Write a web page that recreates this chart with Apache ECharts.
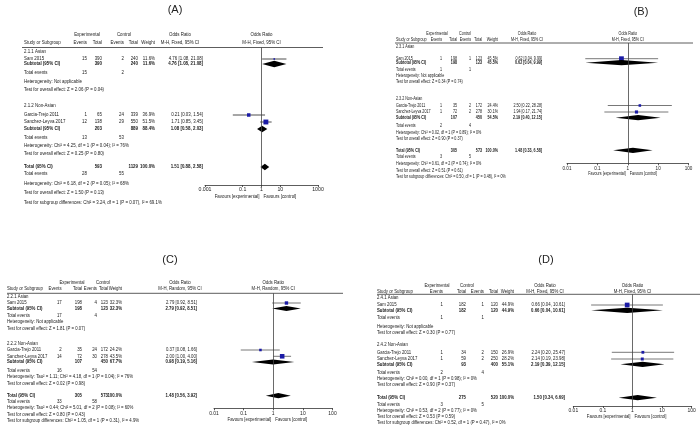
<!DOCTYPE html>
<html><head><meta charset="utf-8">
<script src="https://cdn.jsdelivr.net/npm/echarts@6/dist/echarts.min.js"></script>
<style>html,body{margin:0;padding:0;background:#fff}#c{width:700px;height:428px}</style>
</head><body><div id="c"></div><script>
// ================= DATA =================
const studyNames = ['Sam 2015', 'Garcia-Trejo 2011', 'Sanchez-Leyva 2017'];
const studyGroup = [0, 1, 1];

// Panel A
const aGroups = ['2.1.1 Asian', '2.1.2 Non-Asian'];
const aExpEvents = [15, 1, 12];
const aExpTotal = [390, 65, 138];
const aCtlEvents = [2, 24, 29];
const aCtlTotal = [240, 339, 550];
const aWeight = ['11.6%', '36.9%', '51.5%'];
const aOR = [4.76, 0.21, 1.71];
const aLow = [1.08, 0.03, 0.85];
const aHigh = [21.08, 1.54, 3.45];
const aSubWeight = ['11.6%', '88.4%'];
const aSubOR = [4.76, 1.08];
const aSubLow = [1.08, 0.58];
const aSubHigh = [21.08, 2.03];
const aTotal = [1.51, 0.88, 2.58];
const aSubHet = ['Heterogeneity: Not applicable', 'Heterogeneity: Chi² = 4.25, df = 1 (P = 0.04); I² = 76%'];
const aSubTest = ['Test for overall effect: Z = 2.06 (P = 0.04)', 'Test for overall effect: Z = 0.25 (P = 0.80)'];
const aTotHet = 'Heterogeneity: Chi² = 6.18, df = 2 (P = 0.05); I² = 68%';
const aTotTest = 'Test for overall effect: Z = 1.50 (P = 0.13)';
const aSubDiff = 'Test for subgroup differences: Chi² = 3.24, df = 1 (P = 0.07), I² = 69.1%';
const aTicks = ['0.001', '0.1', '1', '10', '1000'];

// Panel B
const bGroups = ['2.3.1 Asian', '2.3.2 Non-Asian'];
const bExpEvents = [1, 1, 1];
const bExpTotal = [198, 35, 72];
const bCtlEvents = [1, 2, 2];
const bCtlTotal = [123, 172, 278];
const bWeight = ['45.5%', '24.4%', '30.1%'];
const bOR = [0.62, 2.50, 1.94];
const bLow = [0.04, 0.22, 0.17];
const bHigh = [9.99, 28.28, 21.74];
const bSubWeight = ['45.5%', '54.5%'];
const bSubOR = [0.62, 2.19];
const bSubLow = [0.04, 0.40];
const bSubHigh = [9.99, 12.15];
const bTotal = [1.48, 0.33, 6.58];
const bSubHet = ['Heterogeneity: Not applicable', 'Heterogeneity: Chi² = 0.02, df = 1 (P = 0.89); I² = 0%'];
const bSubTest = ['Test for overall effect: Z = 0.34 (P = 0.74)', 'Test for overall effect: Z = 0.90 (P = 0.37)'];
const bTotHet = 'Heterogeneity: Chi² = 0.61, df = 2 (P = 0.74); I² = 0%';
const bTotTest = 'Test for overall effect: Z = 0.51 (P = 0.61)';
const bSubDiff = 'Test for subgroup differences: Chi² = 0.50, df = 1 (P = 0.48), I² = 0%';
const bTicks = ['0.01', '0.1', '1', '10', '100'];

// Panel C
const cGroups = ['2.2.1 Asian', '2.2.2 Non-Asian'];
const cExpEvents = [17, 2, 14];
const cExpTotal = [198, 35, 72];
const cCtlEvents = [4, 24, 30];
const cCtlTotal = [123, 172, 278];
const cWeight = ['32.3%', '24.2%', '43.5%'];
const cOR = [2.79, 0.37, 2.00];
const cLow = [0.92, 0.08, 1.00];
const cHigh = [8.51, 1.66, 4.00];
const cSubWeight = ['32.3%', '67.7%'];
const cSubOR = [2.79, 0.98];
const cSubLow = [0.92, 0.19];
const cSubHigh = [8.51, 5.16];
const cTotal = [1.48, 0.56, 3.92];
const cSubHet = ['Heterogeneity: Not applicable', 'Heterogeneity: Tau² = 1.11; Chi² = 4.18, df = 1 (P = 0.04); I² = 76%'];
const cSubTest = ['Test for overall effect: Z = 1.81 (P = 0.07)', 'Test for overall effect: Z = 0.02 (P = 0.98)'];
const cTotHet = 'Heterogeneity: Tau² = 0.44; Chi² = 5.01, df = 2 (P = 0.08); I² = 60%';
const cTotTest = 'Test for overall effect: Z = 0.80 (P = 0.43)';
const cSubDiff = 'Test for subgroup differences: Chi² = 1.05, df = 1 (P = 0.31), I² = 4.9%';
const cTicks = ['0.01', '0.1', '1', '10', '100'];

// Panel D
const dGroups = ['2.4.1 Asian', '2.4.2 Non-Asian'];
const dExpEvents = [1, 1, 1];
const dExpTotal = [182, 34, 59];
const dCtlEvents = [1, 2, 2];
const dCtlTotal = [120, 150, 250];
const dWeight = ['44.9%', '26.9%', '28.2%'];
const dOR = [0.66, 2.24, 2.14];
const dLow = [0.04, 0.20, 0.19];
const dHigh = [10.61, 25.47, 23.98];
const dSubWeight = ['44.9%', '55.1%'];
const dSubOR = [0.66, 2.19];
const dSubLow = [0.04, 0.39];
const dSubHigh = [10.61, 12.15];
const dTotal = [1.50, 0.34, 6.69];
const dSubHet = ['Heterogeneity: Not applicable', 'Heterogeneity: Chi² = 0.00, df = 1 (P = 0.98); I² = 0%'];
const dSubTest = ['Test for overall effect: Z = 0.30 (P = 0.77)', 'Test for overall effect: Z = 0.90 (P = 0.37)'];
const dTotHet = 'Heterogeneity: Chi² = 0.53, df = 2 (P = 0.77); I² = 0%';
const dTotTest = 'Test for overall effect: Z = 0.53 (P = 0.59)';
const dSubDiff = 'Test for subgroup differences: Chi² = 0.52, df = 1 (P = 0.47), I² = 0%';
const dTicks = ['0.01', '0.1', '1', '10', '100'];

// ================= BUILD =================
function pack(title, method, groups, ee, et, ce, ct, w, or, lo, hi, sw, sor, slo, shi, tot, shet, stest, thet, ttest, sdiff, ticks) {
  return {title, method, groups, ee, et, ce, ct, w, or, lo, hi, sw, sor, slo, shi, tot, shet, stest, thet, ttest, sdiff, ticks};
}
const DATA = [
  pack('(A)', 'M-H, Fixed, 95% CI', aGroups, aExpEvents, aExpTotal, aCtlEvents, aCtlTotal, aWeight, aOR, aLow, aHigh, aSubWeight, aSubOR, aSubLow, aSubHigh, aTotal, aSubHet, aSubTest, aTotHet, aTotTest, aSubDiff, aTicks),
  pack('(B)', 'M-H, Fixed, 95% CI', bGroups, bExpEvents, bExpTotal, bCtlEvents, bCtlTotal, bWeight, bOR, bLow, bHigh, bSubWeight, bSubOR, bSubLow, bSubHigh, bTotal, bSubHet, bSubTest, bTotHet, bTotTest, bSubDiff, bTicks),
  pack('(C)', 'M-H, Random, 95% CI', cGroups, cExpEvents, cExpTotal, cCtlEvents, cCtlTotal, cWeight, cOR, cLow, cHigh, cSubWeight, cSubOR, cSubLow, cSubHigh, cTotal, cSubHet, cSubTest, cTotHet, cTotTest, cSubDiff, cTicks),
  pack('(D)', 'M-H, Fixed, 95% CI', dGroups, dExpEvents, dExpTotal, dCtlEvents, dCtlTotal, dWeight, dOR, dLow, dHigh, dSubWeight, dSubOR, dSubLow, dSubHigh, dTotal, dSubHet, dSubTest, dTotHet, dTotTest, dSubDiff, dTicks)
];

// layout (pixel positions, sizes)
const LAYOUT = [
  {fs: 5.2, sx: 0.85, tx: 175, ty: 10, cStudy: 24, cEE: 87, cET: 102, cCE: 124, cCT: 138, cW: 155, cOR: 203, hExp: 87, hCtl: 124, hOR: 180,
   lx0: 22, lx1: 323, ax0: 205, ax1: 318, sqK: 0.095, dia: 3.2, ciColor: '#222',
   r: {h1: 35, h2: 43, line: 47.5, g0: 52, s0: 59, sub0: 64, te0: 73, het0: 81.5, test0: 90, g1: 106, s1: 115, s2: 122, sub1: 129, te1: 138, het1: 146, test1: 154,
       tot: 167, te: 174, het: 183.5, test: 193, diff: 203, axis: 185, fav: 197}},
  {fs: 4.6, sx: 0.8, tx: 641, ty: 12, cStudy: 396, cEE: 442, cET: 457, cCE: 471, cCT: 482, cW: 498, cOR: 542, hExp: 437, hCtl: 465, hOR: 527,
   lx0: 395, lx1: 693, ax0: 567, ax1: 688.5, sqK: 0.105, dia: 2.6, ciColor: '#555',
   r: {h1: 34, h2: 39.5, line: 43, g0: 47, s0: 58.7, sub0: 62.7, te0: 70, het0: 76, test0: 81.7, g1: 99, s1: 105.5, s2: 112, sub1: 117.7, te1: 126, het1: 132.3, test1: 138.3,
       tot: 150.3, te: 157, het: 164, test: 170.7, diff: 176.7, axis: 163.3, fav: 173.5}},
  {fs: 5, sx: 0.86, tx: 170, ty: 260, cStudy: 7, cEE: 61.7, cET: 82, cCE: 97, cCT: 108, cW: 122, cOR: 197, hExp: 72, hCtl: 103, hOR: 180,
   lx0: 7, lx1: 343, ax0: 214, ax1: 332.5, sqK: 0.105, dia: 2.6, ciColor: '#555',
   r: {h1: 282.3, h2: 288.3, line: 293.3, g0: 296.7, s0: 303, sub0: 308.5, te0: 315.7, het0: 321.5, test0: 329, g1: 343.5, s1: 350, s2: 356.3, sub1: 362, te1: 370.3, het1: 376.7, test1: 383.3,
       tot: 395.7, te: 401.7, het: 408, test: 414.3, diff: 420.5, axis: 408.3, fav: 419.5}},
  {fs: 5, sx: 0.86, tx: 546, ty: 260, cStudy: 377, cEE: 443, cET: 466, cCE: 484, cCT: 498, cW: 514, cOR: 565, hExp: 437, hCtl: 467, hOR: 545,
   lx0: 377, lx1: 700, ax0: 573.3, ax1: 691.7, sqK: 0.105, dia: 2.6, ciColor: '#555',
   r: {h1: 286, h2: 291.7, line: 294.3, g0: 297.7, s0: 305, sub0: 310.3, te0: 318, het0: 326.5, test0: 333, g1: 345, s1: 352.3, s2: 359, sub1: 364.3, te1: 372.7, het1: 378.3, test1: 385,
       tot: 397.7, te: 405, het: 411, test: 416.7, diff: 423, axis: 406, fav: 416.7}}
];

const FONT = '"Liberation Sans", Arial, sans-serif';
const fmtCI = (o, l, h) => o.toFixed(2) + ' [' + l.toFixed(2) + ', ' + h.toFixed(2) + ']';
const sum = (arr, idx) => idx.reduce((s, i) => s + arr[i], 0);

const grids = [], xAxes = [], yAxes = [], series = [], graphics = [];

DATA.forEach((D, gi) => {
  const P = LAYOUT[gi], r = P.r;
  const tickVals = D.ticks.map(parseFloat);
  const mn = tickVals[0], mx = tickVals[tickVals.length - 1];
  const lmin = Math.log10(mn), lmax = Math.log10(mx);
  const xOf = v => P.ax0 + (P.ax1 - P.ax0) * (Math.log10(v) - lmin) / (lmax - lmin);
  const xMid = xOf(1);

  const T = (x, y, s, align, bold, fill) => graphics.push({
    type: 'text', x: x, y: y, scaleX: P.sx, silent: true,
    style: {text: String(s), fill: fill || '#1a1a1a', font: (bold ? 'bold ' : '') + P.fs + 'px ' + FONT,
            textAlign: align || 'left', textVerticalAlign: 'middle', align: align || 'left', verticalAlign: 'middle'}
  });

  // title
  graphics.push({type: 'text', x: P.tx, y: P.ty, silent: true,
    style: {text: D.title, fill: '#222', font: '11px ' + FONT, textAlign: 'center', textVerticalAlign: 'middle', align: 'center', verticalAlign: 'middle'}});

  // headers
  T(P.hExp, r.h1, 'Experimental', 'center');
  T(P.hCtl, r.h1, 'Control', 'center');
  T(P.hOR, r.h1, 'Odds Ratio', 'center');
  T(xMid, r.h1, 'Odds Ratio', 'center');
  T(P.cStudy, r.h2, 'Study or Subgroup');
  T(P.cEE, r.h2, 'Events', 'right');
  T(P.cET, r.h2, 'Total', 'right');
  T(P.cCE, r.h2, 'Events', 'right');
  T(P.cCT, r.h2, 'Total', 'right');
  T(P.cW, r.h2, 'Weight', 'right');
  T(P.hOR, r.h2, D.method, 'center');
  T(xMid, r.h2, D.method, 'center');
  graphics.push({type: 'line', silent: true, shape: {x1: P.lx0, y1: r.line, x2: P.lx1, y2: r.line}, style: {stroke: '#333', lineWidth: 0.8}});

  const studyData = [], diamondData = [];
  [0, 1].forEach(g => {
    const idx = studyGroup.map((gg, i) => gg === g ? i : -1).filter(i => i >= 0);
    T(P.cStudy, r['g' + g], D.groups[g]);
    idx.forEach(i => {
      const y = r['s' + i];
      T(P.cStudy, y, studyNames[i]);
      T(P.cEE, y, D.ee[i], 'right');
      T(P.cET, y, D.et[i], 'right');
      T(P.cCE, y, D.ce[i], 'right');
      T(P.cCT, y, D.ct[i], 'right');
      T(P.cW, y, D.w[i], 'right');
      T(P.cOR, y, fmtCI(D.or[i], D.lo[i], D.hi[i]), 'right');
      studyData.push([D.or[i], y - r.line, D.lo[i], D.hi[i], Math.max(1.6, P.sqK * parseFloat(D.w[i]))]);
    });
    const ys = r['sub' + g];
    T(P.cStudy, ys, 'Subtotal (95% CI)', 'left', true);
    T(P.cET, ys, sum(D.et, idx), 'right', true);
    T(P.cCT, ys, sum(D.ct, idx), 'right', true);
    T(P.cW, ys, D.sw[g], 'right', true);
    T(P.cOR, ys, fmtCI(D.sor[g], D.slo[g], D.shi[g]), 'right', true);
    diamondData.push([D.sor[g], ys - r.line, D.slo[g], D.shi[g]]);
    T(P.cStudy, r['te' + g], 'Total events');
    T(P.cEE, r['te' + g], sum(D.ee, idx), 'right');
    T(P.cCE, r['te' + g], sum(D.ce, idx), 'right');
    T(P.cStudy, r['het' + g], D.shet[g]);
    T(P.cStudy, r['test' + g], D.stest[g]);
  });
  const all = [0, 1, 2];
  T(P.cStudy, r.tot, 'Total (95% CI)', 'left', true);
  T(P.cET, r.tot, sum(D.et, all), 'right', true);
  T(P.cCT, r.tot, sum(D.ct, all), 'right', true);
  T(P.cW, r.tot, '100.0%', 'right', true);
  T(P.cOR, r.tot, fmtCI(D.tot[0], D.tot[1], D.tot[2]), 'right', true);
  diamondData.push([D.tot[0], r.tot - r.line, D.tot[1], D.tot[2]]);
  T(P.cStudy, r.te, 'Total events');
  T(P.cEE, r.te, sum(D.ee, all), 'right');
  T(P.cCE, r.te, sum(D.ce, all), 'right');
  T(P.cStudy, r.het, D.thet);
  T(P.cStudy, r.test, D.ttest);
  T(P.cStudy, r.diff, D.sdiff);
  T(xMid - 2, r.fav, 'Favours [experimental]', 'right');
  T(xMid + 2, r.fav, 'Favours [control]', 'left');

  grids.push({left: P.ax0, top: r.line, width: P.ax1 - P.ax0, height: r.axis - r.line, containLabel: false});
  xAxes.push({
    type: 'log', logBase: 10, gridIndex: gi, min: mn, max: mx, position: 'bottom',
    axisLine: {show: true, onZero: false, lineStyle: {color: '#333', width: 0.8}},
    axisTick: {show: true, length: 2, customValues: tickVals, lineStyle: {color: '#333', width: 0.8}},
    splitLine: {show: false}, minorTick: {show: false},
    axisLabel: {customValues: tickVals, fontSize: P.fs, fontFamily: FONT, color: '#222', margin: 2.5,
      showMinLabel: true, showMaxLabel: true,
      formatter: v => {
        for (let k = 0; k < tickVals.length; k++) if (Math.abs(Math.log10(v) - Math.log10(tickVals[k])) < 0.01) return D.ticks[k];
        return '';
      }}
  });
  yAxes.push({type: 'value', gridIndex: gi, min: 0, max: r.axis - r.line, inverse: true, show: false});

  series.push({
    type: 'custom', xAxisIndex: gi, yAxisIndex: gi, silent: true, clip: false, z: 3,
    data: studyData,
    renderItem: (params, api) => {
      const y = api.value(1);
      const c = api.coord([api.value(0), y]);
      const l = api.coord([api.value(2), y]);
      const h = api.coord([api.value(3), y]);
      const s = api.value(4);
      return {type: 'group', children: [
        {type: 'line', shape: {x1: l[0], y1: c[1], x2: h[0], y2: c[1]}, style: {stroke: P.ciColor, lineWidth: 0.8}},
        {type: 'rect', shape: {x: c[0] - s / 2, y: c[1] - s / 2, width: s, height: s}, style: {fill: '#1b1ba6'}}
      ]};
    },
    markLine: {silent: true, symbol: ['none', 'none'], label: {show: false}, animation: false,
      lineStyle: {color: '#444', width: 0.8, type: 'solid'}, data: [{xAxis: 1}]}
  });
  series.push({
    type: 'custom', xAxisIndex: gi, yAxisIndex: gi, silent: true, clip: false, z: 4,
    data: diamondData,
    renderItem: (params, api) => {
      const y = api.value(1);
      const c = api.coord([api.value(0), y]);
      const l = api.coord([api.value(2), y]);
      const h = api.coord([api.value(3), y]);
      const d = P.dia;
      return {type: 'polygon', shape: {points: [[l[0], c[1]], [c[0], c[1] - d], [h[0], c[1]], [c[0], c[1] + d]]}, style: {fill: '#000'}};
    }
  });
});

const chart = echarts.init(document.getElementById('c'), null, {renderer: 'canvas'});
chart.setOption({
  animation: false,
  backgroundColor: '#fff',
  grid: grids, xAxis: xAxes, yAxis: yAxes, series: series,
  graphic: {elements: graphics}
});
</script></body></html>
